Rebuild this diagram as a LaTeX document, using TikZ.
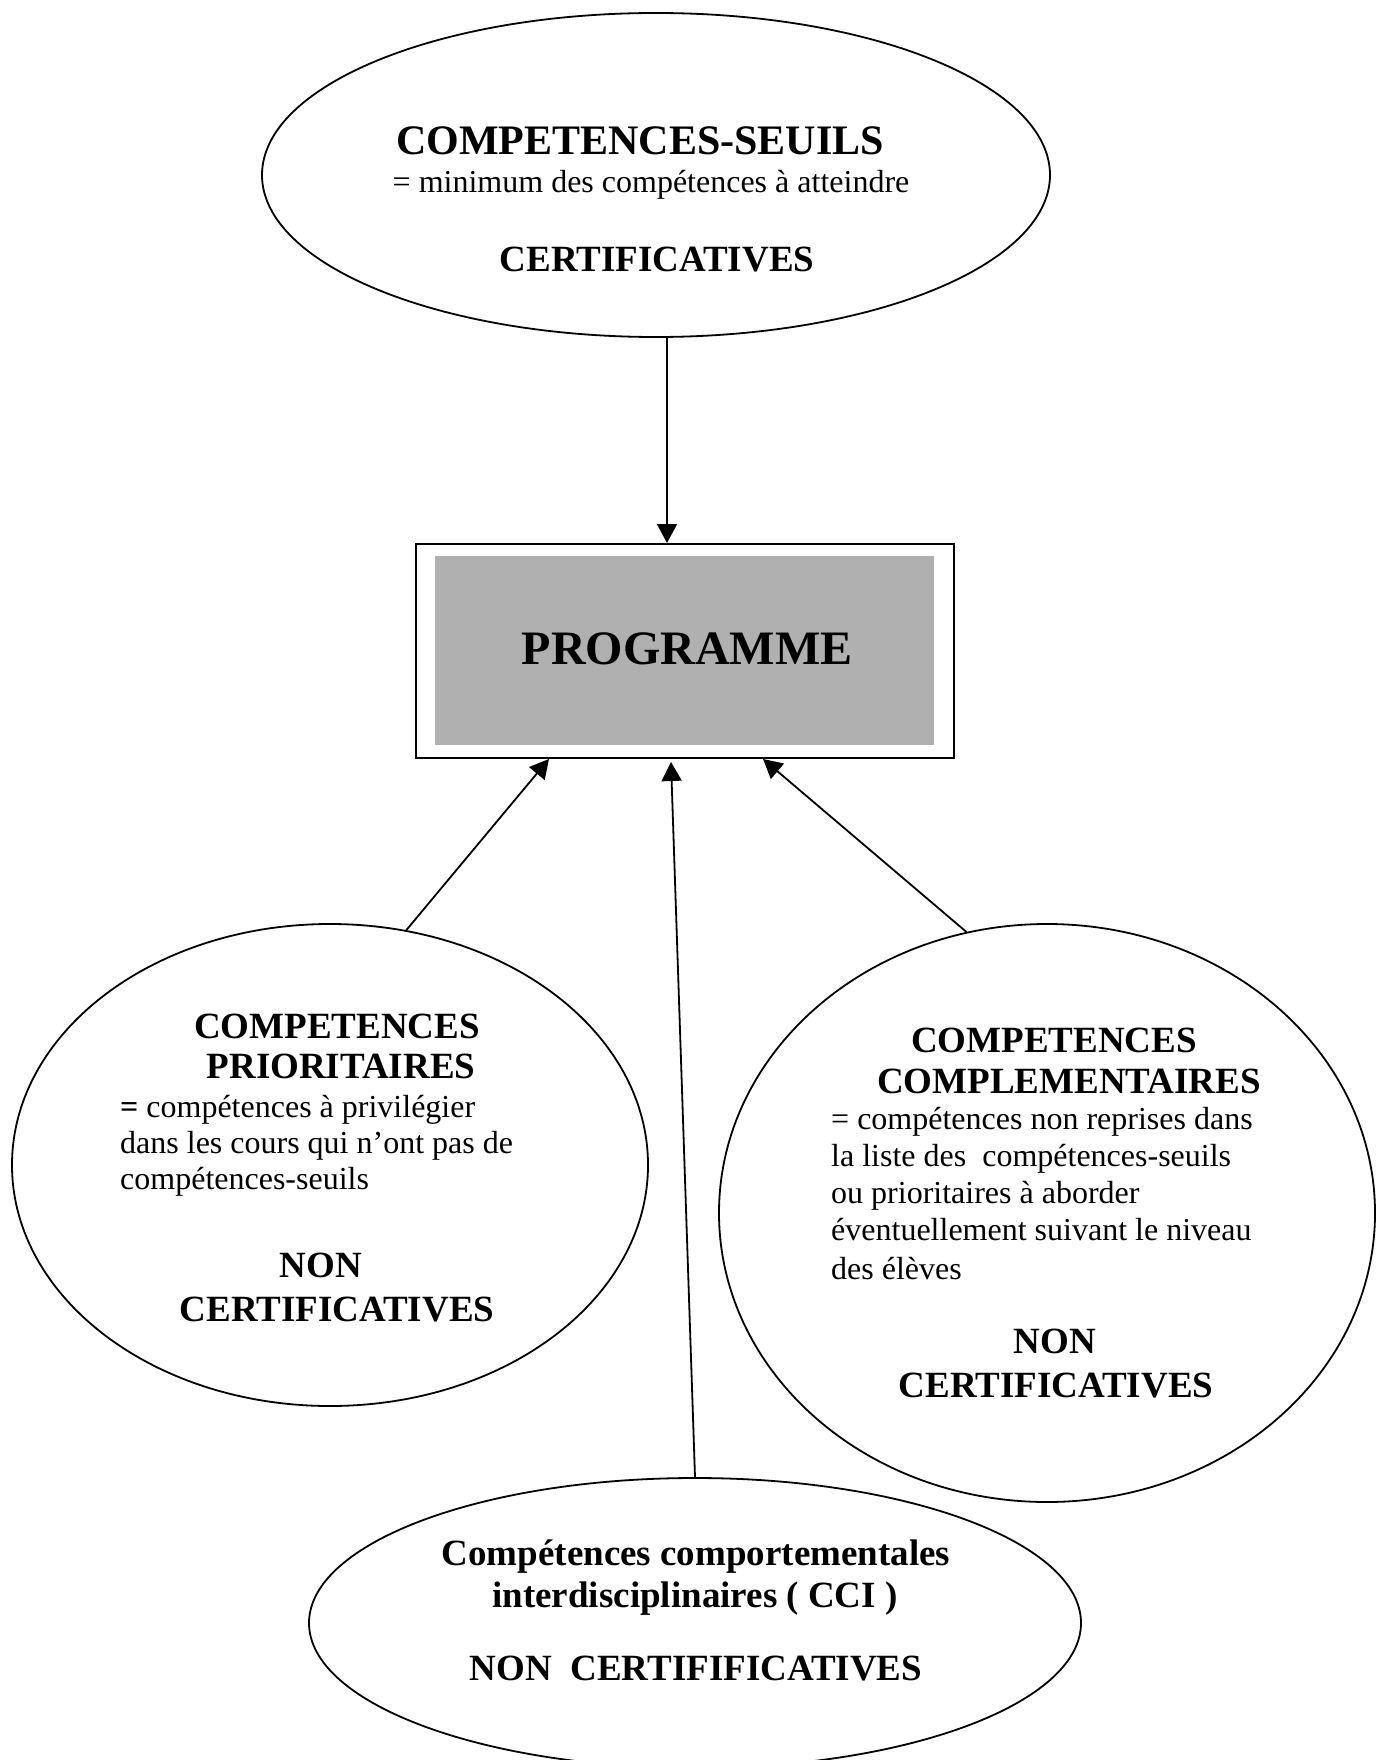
\documentclass[tikz,border=0pt]{standalone}
\usepackage{fontspec}
\setmainfont{Liberation Serif}
\usetikzlibrary{shapes.geometric,arrows.meta,calc}
\definecolor{progray}{RGB}{176,176,176}
\tikzset{
  bubble/.style={draw=black, line width=1.8pt, ellipse, inner sep=0pt},
  conn/.style={draw=black, line width=1.8pt, -{Triangle[length=19pt,width=20pt]}},
  txt/.style={inner sep=0pt, anchor=base},
  txtl/.style={inner sep=0pt, anchor=base west},
}
\newcommand{\fhead}{\fontsize{37}{42}\selectfont\bfseries}
\newcommand{\fbig}{\fontsize{42}{48}\selectfont\bfseries}
\newcommand{\fbody}{\fontsize{32}{37}\selectfont}
\begin{document}
\begin{tikzpicture}[x=1pt,y=-1pt]
\useasboundingbox[fill=white] (0,0) rectangle (1375,1760);

% ellipses
\node[bubble, minimum width=788pt, minimum height=324pt] (pt) at (656,175) {};
\node[bubble, minimum width=636pt, minimum height=482pt] (pl) at (330,1165) {};
\node[bubble, minimum width=656pt, minimum height=578pt] (pr) at (1047,1213) {};
\node[bubble, minimum width=772pt, minimum height=290pt] (pb) at (695,1623) {};

% programme box
\node[draw=black, line width=2pt, minimum width=538pt, minimum height=214pt, inner sep=0pt] (box) at (685,651) {};
\node[fill=progray, minimum width=499pt, minimum height=189pt, inner sep=0pt] (boxin) at (684.5,650.5) {};
\node[txt] (tprog) at (687,664) {\fontsize{48}{54}\selectfont\bfseries PROGRAMME};

% top ellipse text
\node[txt] (t1) at (640,155) {\fbig COMPETENCES-SEUILS};
\node[txt] (t2) at (651,193) {\fbody = minimum des compétences à atteindre};
\node[txt] (t3) at (657,272) {\fhead CERTIFICATIVES};

% left ellipse text
\node[txt] (l1) at (337,1038) {\fhead COMPETENCES};
\node[txt] (l2) at (341,1078) {\fhead PRIORITAIRES};
\node[txtl] (l3) at (120,1117) {\fbody \textbf{=} compétences à privilégier};
\node[txtl] (l4) at (120,1153) {\fbody dans les cours qui n’ont pas de};
\node[txtl] (l5) at (120,1189) {\fbody compétences-seuils};
\node[txt] (l6) at (321,1277) {\fhead NON};
\node[txt] (l7) at (337,1321) {\fhead CERTIFICATIVES};

% right ellipse text
\node[txt] (r1) at (1054,1052) {\fhead COMPETENCES};
\node[txt] (r2) at (1069,1093) {\fhead COMPLEMENTAIRES};
\node[txtl] (r3) at (831,1129) {\fbody = compétences non reprises dans};
\node[txtl] (r4) at (831,1166) {\fbody la liste des\ \ compétences-seuils};
\node[txtl] (r5) at (831,1203) {\fbody ou prioritaires à aborder};
\node[txtl] (r6) at (831,1240) {\fbody éventuellement suivant le niveau};
\node[txtl] (r7) at (831,1279) {\fbody des élèves};
\node[txt] (r8) at (1055,1353) {\fhead NON};
\node[txt] (r9) at (1056,1397) {\fhead CERTIFICATIVES};

% bottom ellipse text
\node[txt] (b1) at (696,1565) {\fhead Compétences comportementales};
\node[txt] (b2) at (695,1607) {\fhead interdisciplinaires ( CCI )};
\node[txt] (b3) at (696,1680) {\fhead NON\ \ CERTIFIFICATIVES};

% connectors
\draw[conn] ([xshift=11pt]pt.south) -- ([xshift=-18pt]box.north);
\draw[conn] (pl.72) -- ([xshift=134pt]box.south west);
\draw[conn] (pb.north) -- ([xshift=-14pt,yshift=-3pt]box.south);
\draw[conn] (pr.106) -- ([xshift=348pt]box.south west);
\end{tikzpicture}
\end{document}
